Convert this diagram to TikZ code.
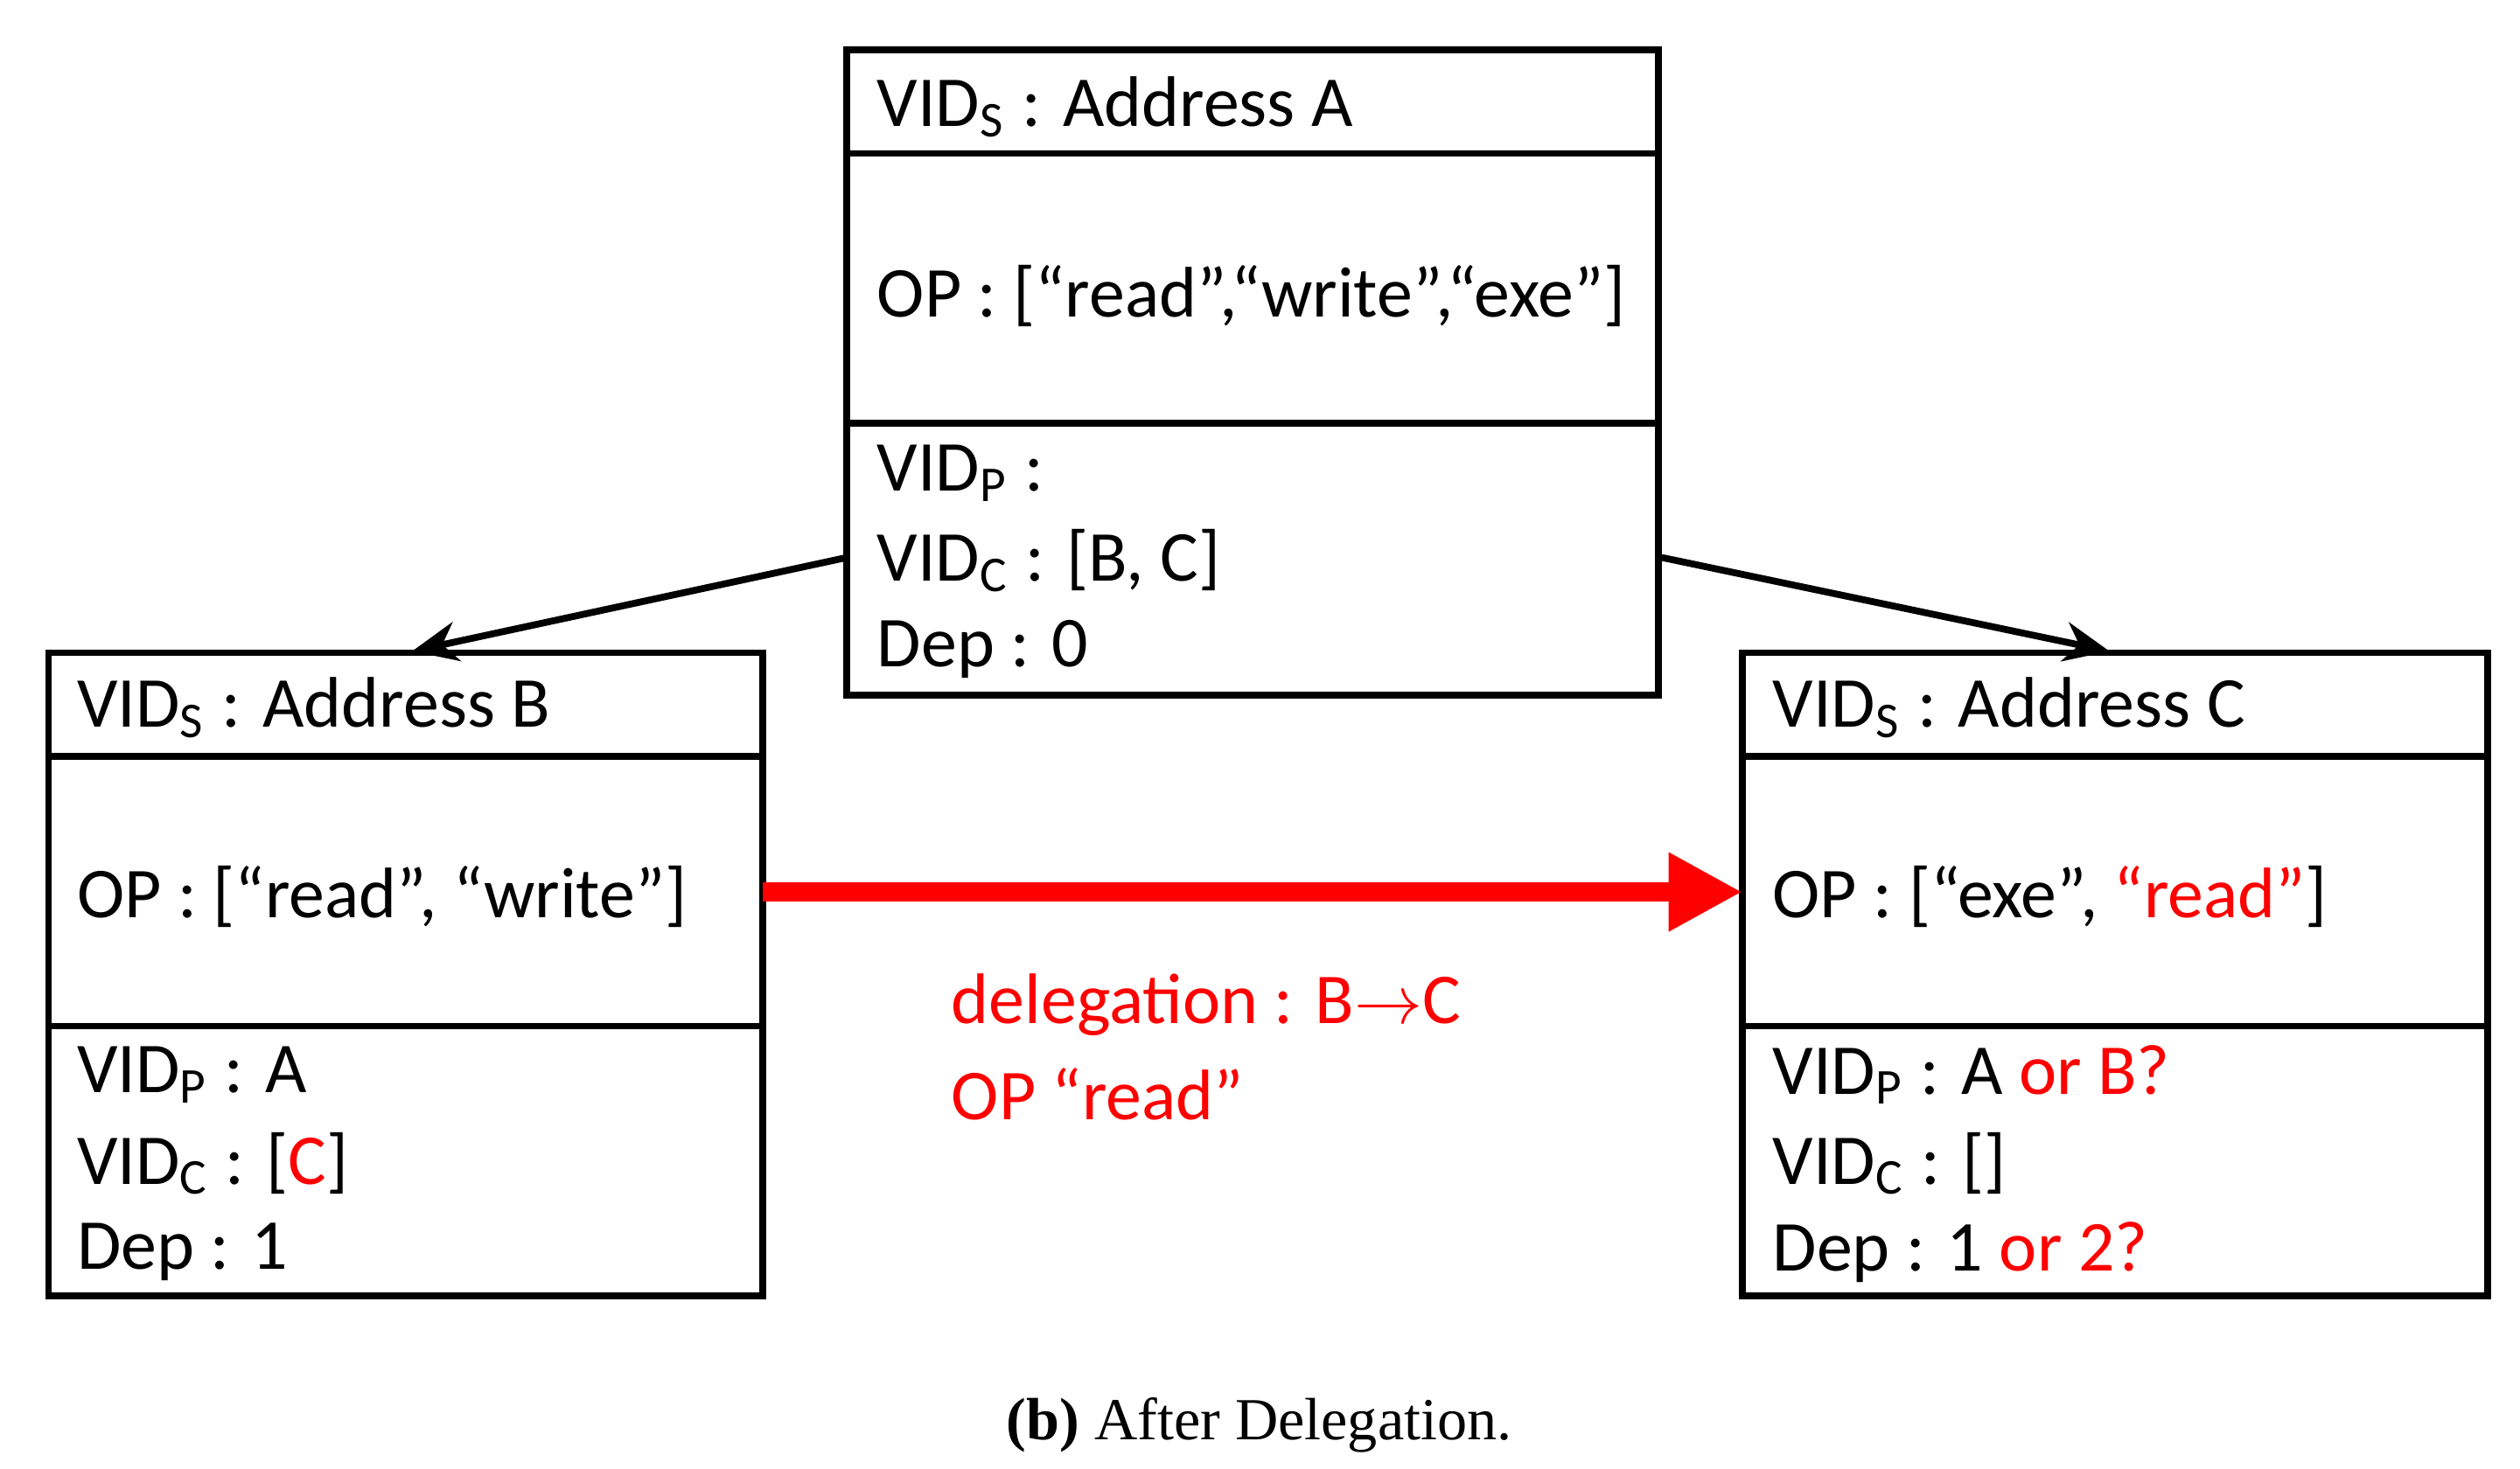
\documentclass[tikz,border=0pt]{standalone}
\usepackage{fontspec}
\setmainfont{Carlito}
\newfontfamily\capfont{Liberation Serif}
\usetikzlibrary{arrows.meta}
\definecolor{myred}{RGB}{255,0,0}
\tikzset{box/.style={draw,line width=1.2pt},
  t/.style={anchor=west,font=\fontsize{12.6}{15}\selectfont,inner sep=0pt},
  r/.style={text=myred}}
\newcommand{\vs}[1]{VID\textsubscript{#1}}
\begin{document}
\begin{tikzpicture}[x=0.01cm,y=-0.01cm]
\useasboundingbox (0,0) rectangle (1559,909);
% Box A
\draw[box] (524,31) rectangle (1026,430);
\draw[box] (524,95)--(1026,95); \draw[box] (524,262)--(1026,262);
\node[t] (a1) at (542,66) {\vs{S} : Address A};
\node[t] (a2) at (542,183) {OP : [“read”,“write”,“exe”]};
\node[t] (a3) at (542,293) {\vs{P} :};
\node[t] (a4) at (542,347) {\vs{C} : [B, C]};
\node[t] (a5) at (542,402) {Dep : 0};
% Box B
\draw[box] (30,404) rectangle (472,802);
\draw[box] (30,468)--(472,468); \draw[box] (30,635)--(472,635);
\node[t] (b1) at (47,438) {\vs{S} : Address B};
\node[t] (b2) at (47,555) {OP : [“read”, “write”]};
\node[t] (b3) at (47,665) {\vs{P} : A};
\node[t] (b4) at (47,720) {\vs{C} : [\textcolor{myred}{C}]};
\node[t] (b5) at (47,775) {Dep : 1};
% Box C
\draw[box] (1078,404) rectangle (1539,802);
\draw[box] (1078,468)--(1539,468); \draw[box] (1078,635)--(1539,635);
\node[t] (c1) at (1096,438) {\vs{S} : Address C};
\node[t] (c2) at (1096,555) {OP : [“exe”, \textcolor{myred}{“read”}]};
\node[t] (c3) at (1096,665) {\vs{P} : A \textcolor{myred}{or B?}};
\node[t] (c4) at (1096,720) {\vs{C} : []};
\node[t] (c5) at (1096,775) {Dep : 1 \textcolor{myred}{or 2?}};
% connectors
\coordinate (aL) at (524,345); \coordinate (bT) at (255,403);
\coordinate (aR) at (1028,345); \coordinate (cT) at (1305,403);
\draw[line width=1.2pt,-{Stealth[length=8pt,width=7pt]}] (aL)--(bT);
\draw[line width=1.2pt,-{Stealth[length=8pt,width=7pt]}] (aR)--(cT);
\coordinate (rs) at (472,552); \coordinate (re) at (1078,552);
\draw[myred,line width=3.5pt,-{Triangle[length=13pt,width=13pt]}] (rs)--(re);
\node[t,r] (d1) at (588,622) {delegation : B$\rightarrow$C};
\node[t,r] (d2) at (588,677) {OP “read”};
\node[font=\fontsize{10.5}{12}\selectfont\capfont] (cap) at (779,882) {\textbf{(b)} After Delegation.};
\end{tikzpicture}
\end{document}
